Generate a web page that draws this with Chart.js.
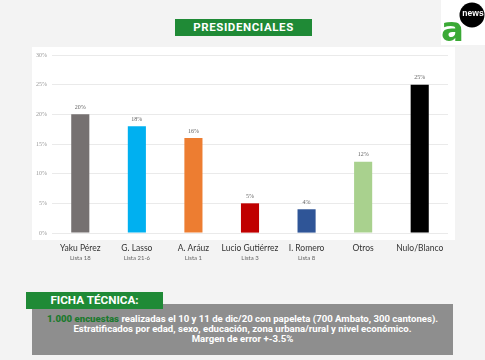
<!DOCTYPE html>
<html>
<head>
<meta charset="utf-8">
<script src="https://cdn.jsdelivr.net/npm/chart.js@4/dist/chart.umd.min.js"></script>
<style>
  html, body { margin: 0; padding: 0; background: #f3f3f3; }
  #wrap { position: relative; width: 485px; height: 360px; overflow: hidden; font-family: Roboto, "Open Sans", sans-serif; }
  #wrap canvas { position: absolute; left: 0; top: 0; }
  .title { position: absolute; left: 175px; top: 19px; width: 137px; height: 17px; background: #1f8a36;
           color: #fff; font-weight: 700; font-size: 11.5px; line-height: 17px; text-align: center; letter-spacing: 0.6px; }
  .ficha-head { position: absolute; left: 26px; top: 292px; width: 137px; height: 17px; background: #1f8a36;
                color: #fff; font-weight: 700; font-size: 11.7px; line-height: 17px; text-align: center; z-index: 2; }
  .ficha-box { position: absolute; left: 32px; top: 304px; width: 421px; height: 51px; background: #8e8e8e;
               color: #fff; font-weight: 700; font-size: 9.6px; line-height: 10px; text-align: center;
               box-sizing: border-box; padding-top: 10px; white-space: nowrap; }
  .ficha-box b { color: #1d7a2f; }
</style>
</head>
<body>
<div id="wrap">
  <canvas id="chart" width="485" height="360"></canvas>
  <div class="title">PRESIDENCIALES</div>
  <div class="ficha-box">
    <b>1.000 encuestas</b> realizadas el 10 y 11 de dic/20 con papeleta (700 Ambato, 300 cantones).<br>
    Estratificados por edad, sexo, educación, zona urbana/rural y nivel económico.<br>
    Margen de error +-3.5%
  </div>
  <div class="ficha-head">FICHA TÉCNICA:</div>
</div>
<script>
const candidates = ['Yaku Pérez', 'G. Lasso', 'A. Aráuz', 'Lucio Gutiérrez', 'I. Romero', 'Otros', 'Nulo/Blanco'];
const lists = ['Lista 18', 'Lista 21-6', 'Lista 1', 'Lista 3', 'Lista 8', '', ''];
const percentages = [20, 18, 16, 5, 4, 12, 25];
const barColors = ['#767171', '#00b0f0', '#ed7d31', '#c00000', '#2f5597', '#a9d18e', '#000000'];
const yTicks = [0, 5, 10, 15, 20, 25, 30];

// white panel behind the plot + logo
const backdrop = {
  id: 'backdrop',
  beforeDraw(chart) {
    const ctx = chart.ctx;
    ctx.save();
    ctx.fillStyle = '#f3f3f3';
    ctx.fillRect(0, 0, chart.width, chart.height);
    ctx.fillStyle = '#ffffff';
    ctx.fillRect(32, 47, 423, 193);

    // logo
    ctx.fillRect(441, 0, 44, 45);
    ctx.fillStyle = '#3aa935';
    ctx.font = 'bold 34px "DejaVu Sans", sans-serif';
    ctx.textAlign = 'left';
    ctx.textBaseline = 'alphabetic';
    ctx.fillText('a', 441, 41);
    ctx.fillStyle = '#000';
    ctx.beginPath();
    ctx.arc(472, 15, 12.5, 0, Math.PI * 2);
    ctx.fill();
    ctx.fillStyle = '#fff';
    ctx.font = 'bold 8.5px "Liberation Sans", sans-serif';
    ctx.textAlign = 'center';
    ctx.textBaseline = 'middle';
    ctx.fillText('news', 473, 14);
    ctx.restore();
  }
};

// values above bars and two-line category labels
const labels = {
  id: 'labels',
  afterDatasetsDraw(chart) {
    const ctx = chart.ctx;
    const meta = chart.getDatasetMeta(0);
    const xScale = chart.scales.x;
    ctx.save();
    ctx.textAlign = 'center';
    meta.data.forEach((bar, i) => {
      ctx.fillStyle = '#666';
      ctx.font = '6px "Liberation Serif", serif';
      ctx.textBaseline = 'bottom';
      ctx.fillText(percentages[i] + '%', bar.x, bar.y - 4);

      const x = xScale.getPixelForValue(i);
      ctx.fillStyle = '#333';
      ctx.font = '8.5px Lato, "Open Sans", sans-serif';
      ctx.textBaseline = 'middle';
      ctx.fillText(candidates[i], x, 248);
      if (lists[i]) {
        ctx.fillStyle = '#666';
        ctx.font = '6px Lato, "Open Sans", sans-serif';
        ctx.fillText(lists[i], x, 258);
      }
    });
    ctx.restore();
  }
};

new Chart(document.getElementById('chart'), {
  type: 'bar',
  data: {
    labels: candidates,
    datasets: [{
      data: percentages,
      backgroundColor: barColors,
      borderWidth: 0,
      barPercentage: 0.32,
      categoryPercentage: 1
    }]
  },
  options: {
    responsive: false,
    animation: false,
    layout: { padding: { left: 32, right: 37, top: 55, bottom: 127 } },
    plugins: { legend: { display: false }, tooltip: { enabled: false } },
    scales: {
      x: {
        grid: { display: false },
        border: { display: false },
        ticks: { display: false },
        afterFit(scale) { scale.height = 0; }
      },
      y: {
        min: 0,
        max: 30,
        afterBuildTicks(scale) { scale.ticks = yTicks.map(v => ({ value: v })); },
        afterFit(scale) { scale.width = 20; },
        grid: { color: '#e4e4e4', drawTicks: false, lineWidth: 0.8 },
        border: { display: false },
        ticks: {
          padding: 5,
          color: '#999',
          font: { size: 6, family: '"Liberation Serif", serif' },
          callback: v => v + '%'
        }
      }
    }
  },
  plugins: [backdrop, labels]
});
</script>
</body>
</html>
